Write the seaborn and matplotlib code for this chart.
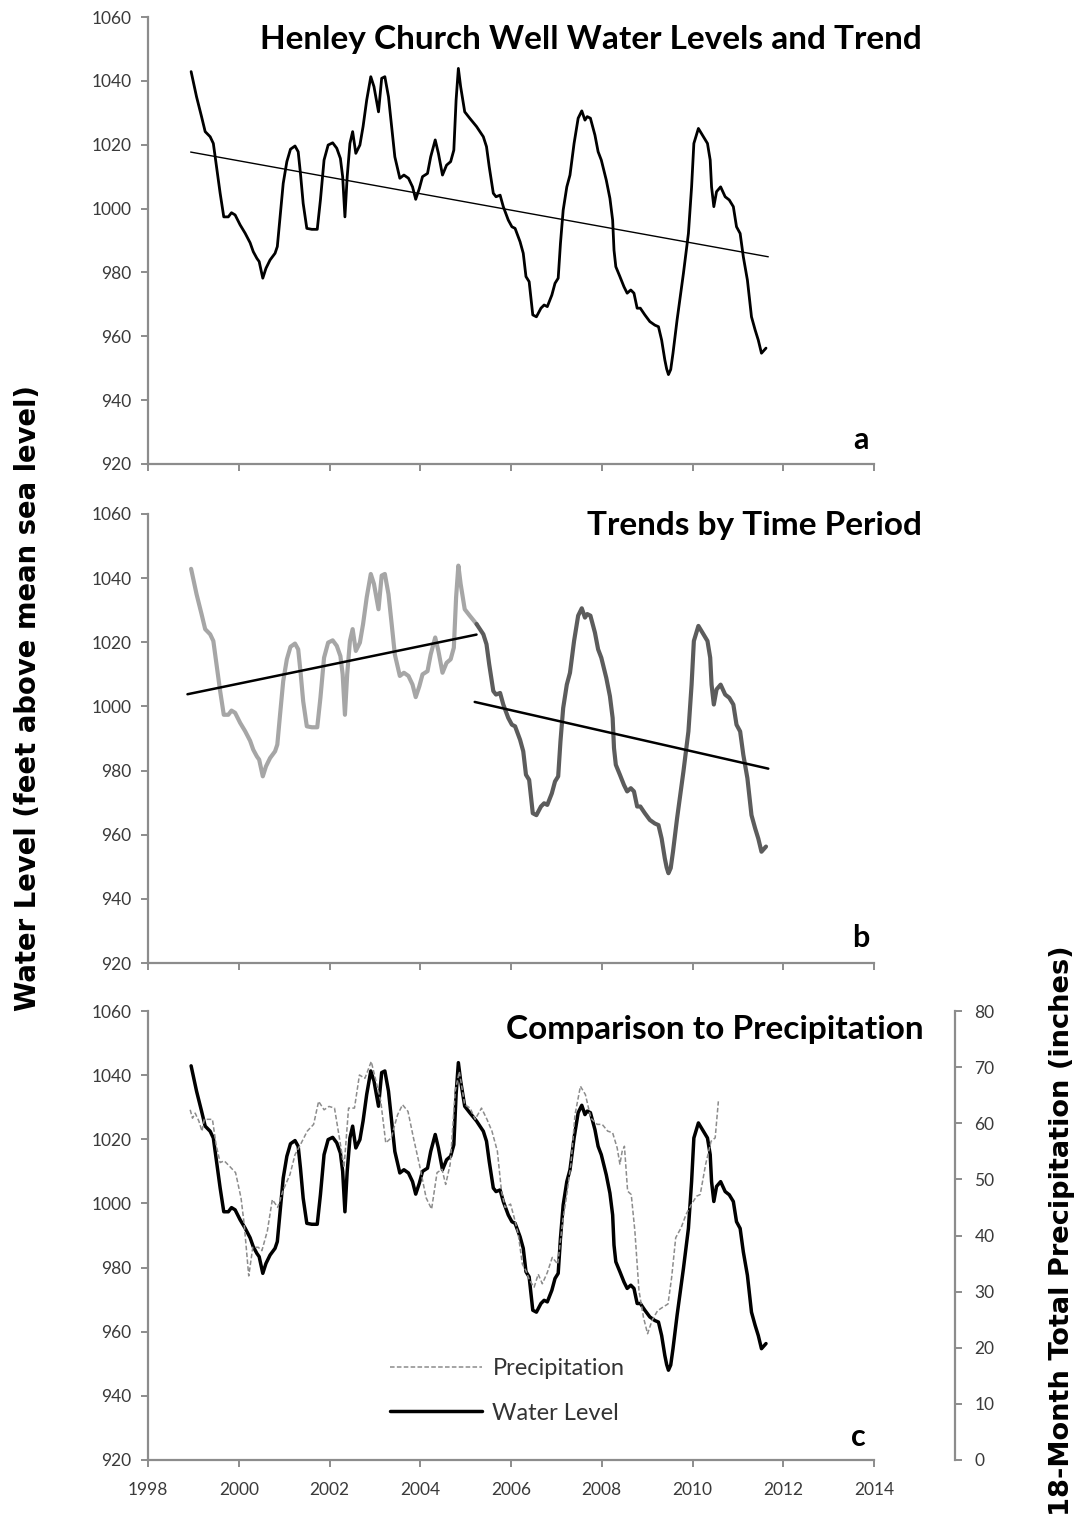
import matplotlib
matplotlib.use("Agg")
import matplotlib.pyplot as plt
import seaborn as sns
import numpy as np

# ---------------- data ----------------
wl_year = [1998.95, 1999.07, 1999.18, 1999.26, 1999.37, 1999.44, 1999.51, 1999.59, 1999.67, 1999.77,
           1999.84, 1999.92, 2000.03, 2000.14, 2000.25, 2000.32, 2000.40, 2000.45, 2000.53, 2000.60,
           2000.69, 2000.80, 2000.85, 2000.91, 2000.98, 2001.06, 2001.14, 2001.24, 2001.31, 2001.36,
           2001.42, 2001.50, 2001.61, 2001.73, 2001.80, 2001.88, 2001.97, 2002.07, 2002.16, 2002.24,
           2002.29, 2002.34, 2002.39, 2002.45, 2002.51, 2002.58, 2002.67, 2002.74, 2002.82, 2002.91,
           2002.98, 2003.08, 2003.15, 2003.22, 2003.30, 2003.37, 2003.44, 2003.55, 2003.64, 2003.74,
           2003.83, 2003.90, 2003.98, 2004.05, 2004.16, 2004.23, 2004.33, 2004.40, 2004.49, 2004.58,
           2004.67, 2004.74, 2004.79, 2004.84, 2004.89, 2004.98, 2005.09, 2005.24, 2005.39, 2005.46,
           2005.52, 2005.61, 2005.67, 2005.76, 2005.83, 2005.94, 2006.02, 2006.09, 2006.20, 2006.27,
           2006.33, 2006.40, 2006.48, 2006.56, 2006.66, 2006.73, 2006.80, 2006.90, 2006.97, 2007.04,
           2007.09, 2007.15, 2007.23, 2007.30, 2007.39, 2007.48, 2007.56, 2007.63, 2007.68, 2007.75,
           2007.85, 2007.92, 2007.99, 2008.10, 2008.18, 2008.24, 2008.27, 2008.31, 2008.40, 2008.49,
           2008.56, 2008.64, 2008.71, 2008.78, 2008.85, 2008.95, 2009.06, 2009.17, 2009.25, 2009.32,
           2009.39, 2009.43, 2009.47, 2009.52, 2009.57, 2009.66, 2009.80, 2009.91, 2009.98, 2010.03,
           2010.13, 2010.22, 2010.33, 2010.39, 2010.42, 2010.47, 2010.53, 2010.62, 2010.72, 2010.81,
           2010.90, 2010.97, 2011.05, 2011.12, 2011.21, 2011.30, 2011.38, 2011.45, 2011.52, 2011.62]
wl_level = [1042.9, 1035.0, 1028.8, 1024.1, 1022.5, 1020.4, 1013.1, 1004.8, 997.4, 997.4,
            998.7, 998.0, 994.9, 992.3, 989.3, 986.5, 984.4, 983.4, 978.2, 981.3,
            983.9, 986.0, 988.1, 997.4, 1007.9, 1014.7, 1018.6, 1019.6, 1017.8, 1011.0,
            1001.6, 993.8, 993.5, 993.5, 1002.7, 1015.2, 1019.9, 1020.6, 1018.9, 1015.7,
            1010.0, 997.4, 1010.0, 1020.4, 1024.1, 1017.3, 1019.9, 1025.7, 1034.0, 1041.3,
            1038.2, 1030.3, 1040.8, 1041.3, 1035.0, 1025.7, 1016.2, 1009.5, 1010.5, 1009.5,
            1006.8, 1002.9, 1006.3, 1010.0, 1011.0, 1016.2, 1021.5, 1017.3, 1010.5, 1013.6,
            1014.7, 1018.3, 1034.0, 1043.9, 1038.2, 1030.3, 1028.3, 1025.7, 1022.5, 1019.4,
            1013.1, 1004.8, 1003.7, 1004.2, 1000.6, 996.4, 994.3, 993.8, 989.6, 986.0,
            978.7, 977.1, 966.7, 966.1, 968.8, 969.8, 969.3, 972.9, 976.6, 978.2,
            989.1, 999.5, 1006.8, 1010.5, 1020.4, 1028.3, 1030.6, 1027.7, 1028.8, 1028.3,
            1023.0, 1017.8, 1015.2, 1008.9, 1003.2, 996.4, 987.0, 981.8, 978.7, 975.5,
            973.5, 974.5, 973.5, 968.8, 968.8, 966.7, 964.6, 963.5, 963.0, 958.8,
            952.6, 949.8, 948.0, 949.6, 954.7, 965.1, 979.7, 992.2, 1006.8, 1020.4,
            1025.1, 1023.0, 1020.4, 1015.2, 1006.8, 1000.6, 1005.3, 1006.8, 1003.7, 1002.7,
            1000.6, 994.3, 992.2, 984.9, 977.6, 966.1, 962.0, 958.8, 954.7, 956.3]

precip_year = [1998.93, 1998.98, 1999.04, 1999.12, 1999.19, 1999.24, 1999.33, 1999.42, 1999.5, 1999.59,
               1999.68, 1999.79, 1999.93, 2000.05, 2000.12, 2000.22, 2000.31, 2000.43, 2000.51, 2000.63,
               2000.74, 2000.86, 2000.97, 2001.13, 2001.24, 2001.36, 2001.51, 2001.65, 2001.76, 2001.88,
               2001.99, 2002.11, 2002.23, 2002.32, 2002.42, 2002.55, 2002.66, 2002.78, 2002.92, 2003.01,
               2003.13, 2003.24, 2003.36, 2003.5, 2003.61, 2003.73, 2003.85, 2003.98, 2004.13, 2004.25,
               2004.37, 2004.48, 2004.56, 2004.66, 2004.77, 2004.86, 2004.98, 2005.1, 2005.21, 2005.35,
               2005.47, 2005.58, 2005.7, 2005.79, 2005.87, 2005.99, 2006.07, 2006.16, 2006.25, 2006.33,
               2006.41, 2006.51, 2006.6, 2006.69, 2006.8, 2006.91, 2007.03, 2007.14, 2007.22, 2007.32,
               2007.41, 2007.53, 2007.64, 2007.76, 2007.9, 2008.01, 2008.13, 2008.24, 2008.34, 2008.4,
               2008.45, 2008.5, 2008.57, 2008.65, 2008.73, 2008.82, 2008.92, 2009.01, 2009.11, 2009.23,
               2009.34, 2009.46, 2009.54, 2009.63, 2009.75, 2009.86, 2009.98, 2010.09, 2010.17, 2010.29,
               2010.41, 2010.5, 2010.57]
precip_total = [62.4, 60.9, 61.8, 60.4, 58.6, 60.7, 60.7, 60.7, 56.2, 53.0,
                53.3, 52.4, 51.2, 46.7, 42.0, 32.8, 37.9, 37.9, 37.3, 40.8,
                46.4, 45.0, 47.9, 50.9, 54.4, 56.2, 58.6, 59.8, 63.9, 62.4,
                63.0, 62.7, 56.8, 52.1, 62.7, 62.7, 68.6, 68.0, 71.0, 68.0,
                63.9, 56.5, 57.4, 61.5, 63.3, 62.1, 57.4, 52.7, 46.7, 44.7,
                51.2, 51.8, 49.1, 52.7, 65.7, 69.2, 63.3, 62.7, 60.7, 62.7,
                60.7, 58.6, 55.0, 47.9, 45.0, 45.6, 43.2, 40.2, 34.9, 33.7,
                32.0, 30.8, 33.1, 31.4, 33.4, 36.1, 34.9, 42.6, 46.7, 52.7,
                61.5, 66.6, 65.1, 60.9, 59.8, 59.8, 58.6, 58.3, 55.6, 52.7,
                55.0, 55.9, 47.9, 47.3, 40.8, 30.2, 25.4, 22.5, 24.9, 26.6,
                27.2, 27.8, 32.5, 39.6, 41.4, 43.8, 45.6, 47.0, 47.3, 52.7,
                56.8, 57.4, 63.9]

trend_all_year = [1998.94, 2011.67]
trend_all_level = [1017.7, 984.9]
trend_early_year = [1998.87, 2005.24]
trend_early_level = [1003.8, 1022.4]
trend_late_year = [2005.2, 2011.67]
trend_late_level = [1001.4, 980.6]
split_year = 2005.24

x_ticks = [1998, 2000, 2002, 2004, 2006, 2008, 2010, 2012, 2014]
y_ticks = [920, 940, 960, 980, 1000, 1020, 1040, 1060]
precip_ticks = [0, 10, 20, 30, 40, 50, 60, 70, 80]
titles = ["Henley Church Well Water Levels and Trend", "Trends by Time Period",
          "Comparison to Precipitation"]
letters = ["a", "b", "c"]

# ---------------- style ----------------
sns.set_theme(style="white")
plt.rcParams['font.family'] = ['Lato', 'DejaVu Sans']

W, H = 1081, 1515
fig = plt.figure(figsize=(W / 100, H / 100), dpi=100)
AX_L, AX_R = 148, 874
tops = [17, 514, 1011]
bottoms = [464, 963, 1460]
spine_col = '#8c8c8c'
tick_lab_col = '#3a3a3a'
line_kw = dict(sort=False, estimator=None, solid_joinstyle='round', solid_capstyle='round')

wl_year_a = np.array(wl_year)
wl_level_a = np.array(wl_level)

axes = []
for i, (t, b) in enumerate(zip(tops, bottoms)):
    ax = fig.add_axes([AX_L / W, 1 - b / H, (AX_R - AX_L) / W, (b - t) / H])
    axes.append(ax)

ax_a, ax_b, ax_c = axes

# panel a
sns.lineplot(x=wl_year, y=wl_level, ax=ax_a, color='black', linewidth=2.0, **line_kw)
sns.lineplot(x=trend_all_year, y=trend_all_level, ax=ax_a, color='black',
             linewidth=1.0, **line_kw)

# panel b
early = wl_year_a <= split_year
late = wl_year_a >= split_year
sns.lineplot(x=wl_year_a[early], y=wl_level_a[early], ax=ax_b, color='#a6a6a6',
             linewidth=3.0, **line_kw)
sns.lineplot(x=wl_year_a[late], y=wl_level_a[late], ax=ax_b, color='#5c5c5c',
             linewidth=3.0, **line_kw)
sns.lineplot(x=trend_early_year, y=trend_early_level, ax=ax_b, color='black',
             linewidth=1.8, **line_kw)
sns.lineplot(x=trend_late_year, y=trend_late_level, ax=ax_b, color='black',
             linewidth=1.8, **line_kw)

# panel c
ax_c2 = ax_c.twinx()
sns.lineplot(x=precip_year, y=precip_total, ax=ax_c2, color='#8c8c8c', linewidth=1.1,
             linestyle=(0, (3, 1.5)), sort=False, estimator=None, label='Precipitation')
sns.lineplot(x=wl_year, y=wl_level, ax=ax_c, color='black', linewidth=2.5,
             label='Water Level', **line_kw)

for i, ax in enumerate(axes):
    ax.set_xlim(1998, 2014)
    ax.set_ylim(920, 1060)
    ax.set_xticks(x_ticks)
    ax.set_yticks(y_ticks)
    ax.set_xlabel('')
    ax.set_ylabel('')
    for s in ['top', 'right']:
        ax.spines[s].set_visible(False)
    for s in ['left', 'bottom']:
        ax.spines[s].set_color(spine_col)
        ax.spines[s].set_linewidth(1.6)
    ax.tick_params(axis='both', direction='out', length=5, width=1.4, color=spine_col,
                   labelsize=12.5, labelcolor=tick_lab_col, left=True, bottom=True)
    ax.tick_params(axis='y', pad=7)
    ax.tick_params(axis='x', pad=11)
    if i < 2:
        ax.tick_params(axis='x', labelbottom=False)
    ax.grid(False)
    if ax.get_legend() is not None:
        ax.get_legend().remove()

# titles and letters
title_pos = [(1.066, 0.949), (1.066, 0.975), (1.069, 0.958)]
letter_pos = [(0.982, 0.054), (0.982, 0.056), (0.979, 0.051)]
for ax, title, (tx, ty), letter, (lx, ly) in zip(axes, titles, title_pos, letters, letter_pos):
    ax.text(tx, ty, title, transform=ax.transAxes, ha='right', va='center',
            fontsize=24, fontweight='bold', color='black', clip_on=False)
    ax.text(lx, ly, letter, transform=ax.transAxes, ha='center', va='center',
            fontsize=22, fontweight='bold', color='black')

# right axis in panel c
ax_c2.set_ylim(0, 80)
ax_c2.set_yticks(precip_ticks)
ax_c2.set_ylabel('')
ax_c2.set_xlabel('')
for s in ['top', 'left', 'bottom']:
    ax_c2.spines[s].set_visible(False)
ax_c2.spines['right'].set_position(('axes', (955 - AX_L) / (AX_R - AX_L)))
ax_c2.spines['right'].set_color(spine_col)
ax_c2.spines['right'].set_linewidth(1.6)
ax_c2.tick_params(axis='y', direction='out', length=5, width=1.4, color=spine_col,
                  labelsize=12.5, labelcolor=tick_lab_col, right=True, pad=9)
ax_c2.grid(False)
if ax_c2.get_legend() is not None:
    ax_c2.get_legend().remove()

h2, l2 = ax_c2.get_legend_handles_labels()
h1, l1 = ax_c.get_legend_handles_labels()
leg = ax_c2.legend(h2 + h1, l2 + l1, loc='center left', bbox_to_anchor=(0.333, 0.154),
                   frameon=False, fontsize=17, handlelength=3.9, handletextpad=0.45,
                   labelspacing=1.0, borderpad=0, borderaxespad=0)
for txt in leg.get_texts():
    txt.set_color('#333333')

# axis labels
fig.text(28 / W, 1 - 698 / H, 'Water Level (feet above mean sea level)', rotation=90,
         ha='center', va='center', fontsize=19.8, fontweight='bold',
         family=['DejaVu Sans'], color='black')
fig.text(1062 / W, 1 - 1231 / H, '18-Month Total Precipitation (inches)', rotation=90,
         ha='center', va='center', fontsize=19.6, fontweight='bold',
         family=['DejaVu Sans'], color='black')

fig.savefig('out.png', dpi=100)
